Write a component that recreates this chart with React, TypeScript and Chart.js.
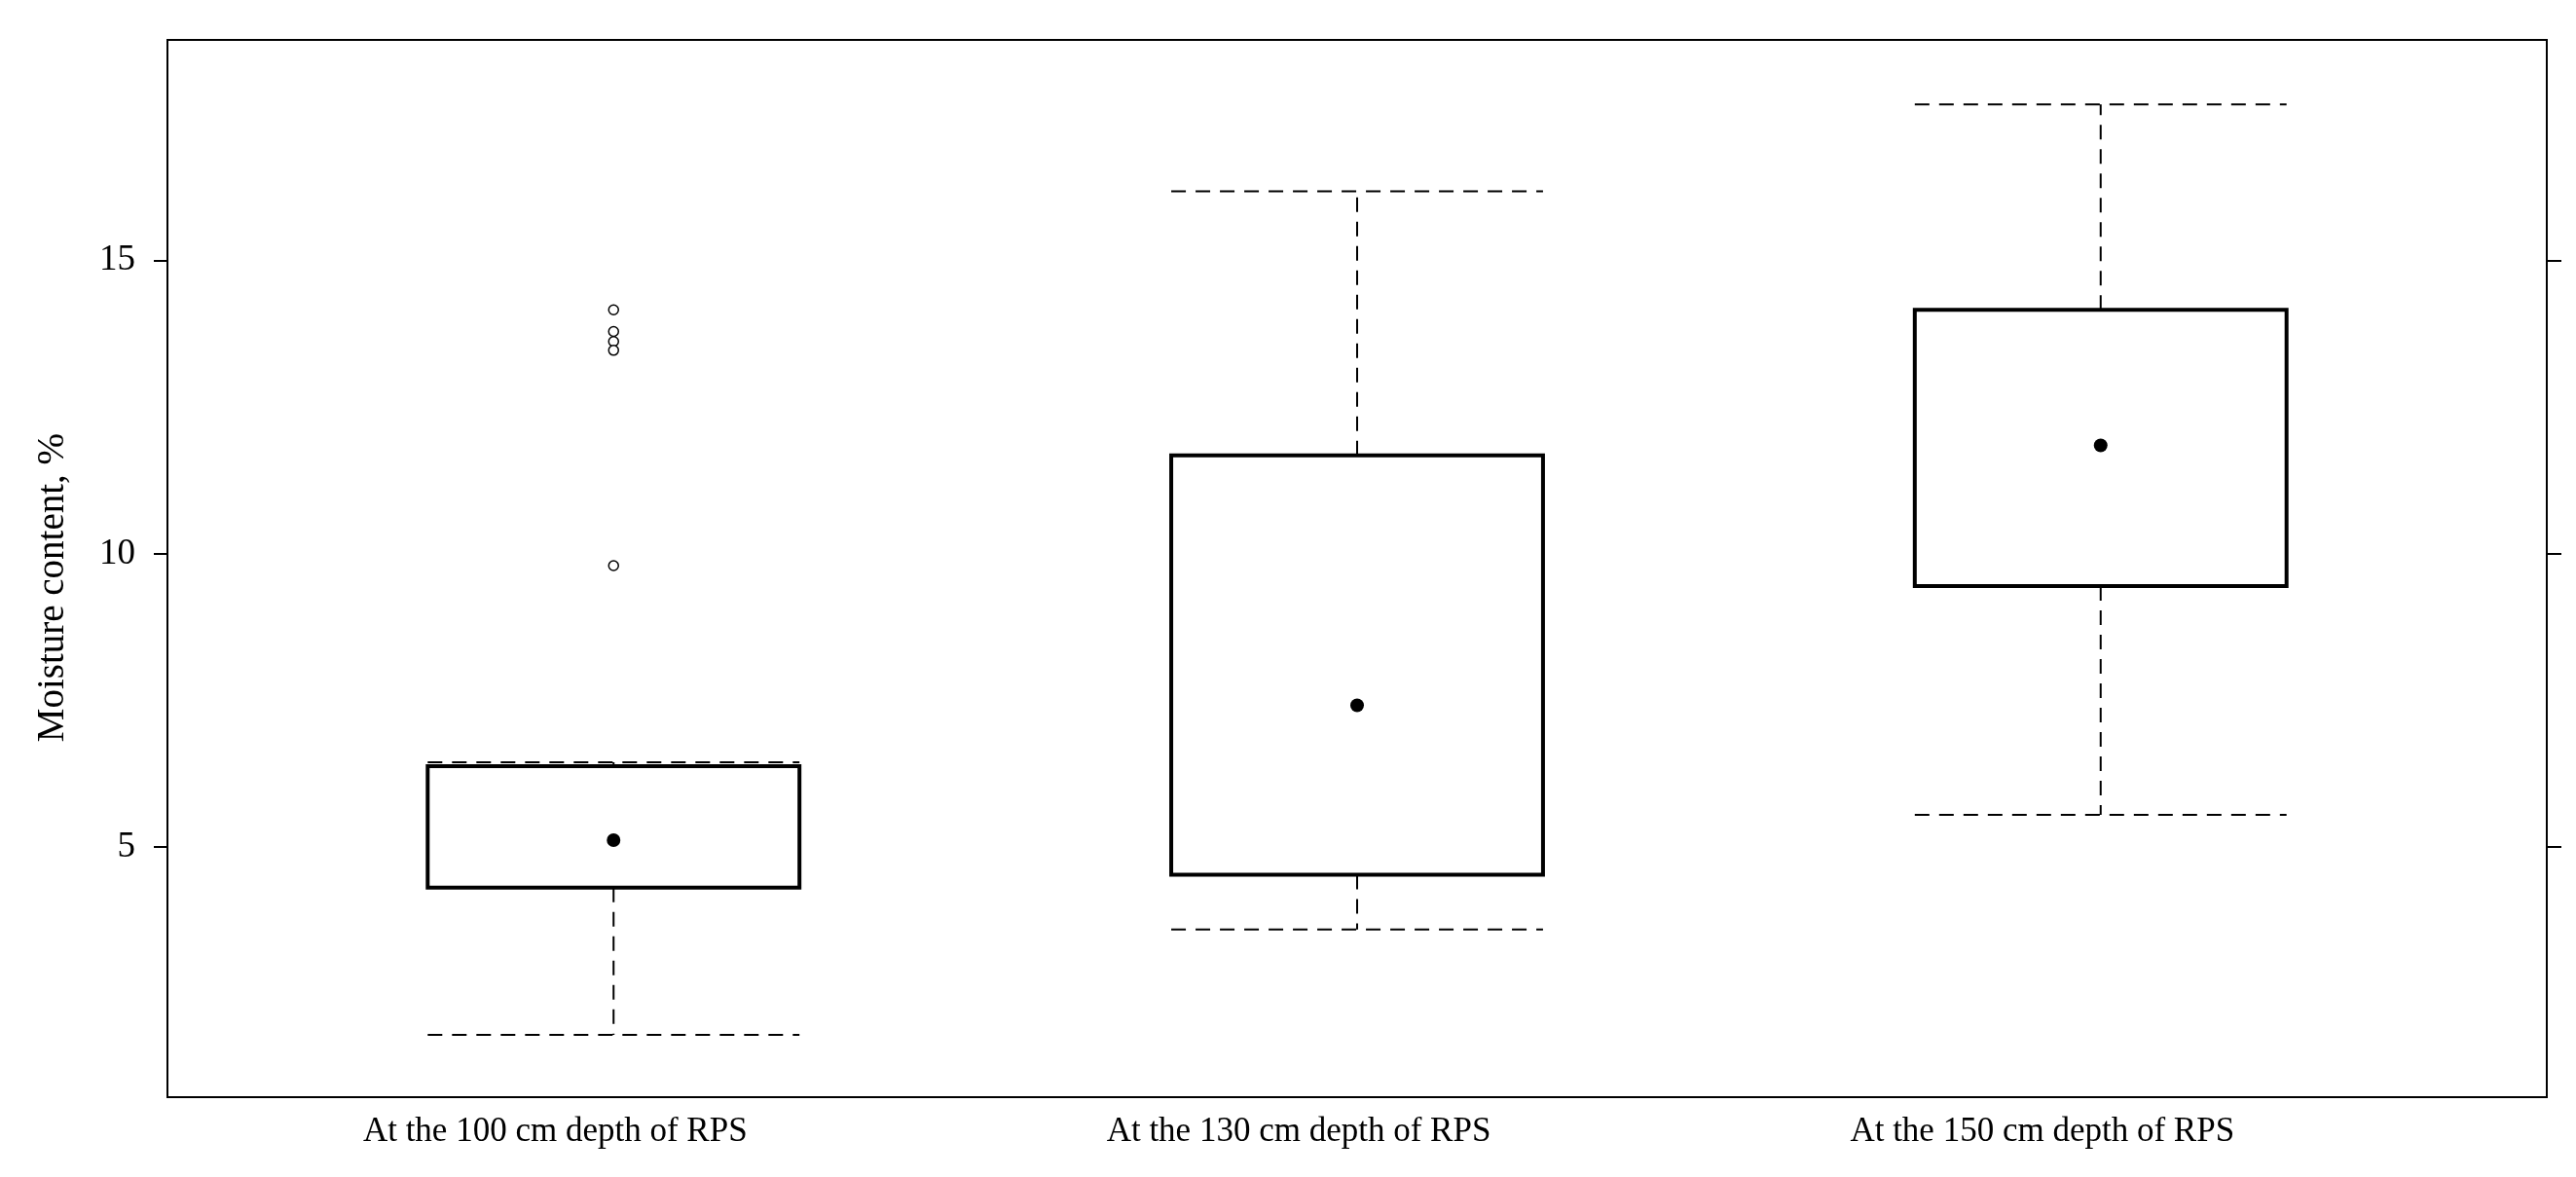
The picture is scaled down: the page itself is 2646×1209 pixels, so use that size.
import React, { useEffect, useRef } from "react";
import { Chart, registerables } from "chart.js";

Chart.register(...registerables);

const categories = [
  "At the 100 cm depth of RPS",
  "At the 130 cm depth of RPS",
  "At the 150 cm depth of RPS",
];
const positions = [1, 2, 3];
const whiskerLow = [1.8, 3.6, 5.55];
const q1 = [4.31, 4.53, 9.45];
const q3 = [6.38, 11.68, 14.16];
const whiskerHigh = [6.45, 16.18, 17.66];
const means = [5.12, 7.42, 11.85];
const outliers: number[][] = [[14.16, 13.79, 13.62, 13.47, 9.8], [], []];
const yTicks = [5, 10, 15];
const yTitle = "Moisture content, %";

const X_MIN = 0.4;
const X_MAX = 3.6;
const Y_MIN = 0.74;
const Y_MAX = 18.757;
const HALF = 0.25;

const FONT = "'Liberation Serif', 'Times New Roman', serif";

export default function App() {
  const ref = useRef<HTMLCanvasElement | null>(null);

  useEffect(() => {
    document.body.style.margin = "0";
    document.body.style.overflow = "hidden";
    const canvas = ref.current;
    if (!canvas) return;

    const datasets: any[] = [];

    // mean points
    datasets.push({
      label: "mean",
      data: positions.map((p, i) => ({ x: p, y: means[i] })),
      pointRadius: 7,
      pointBackgroundColor: "#000",
      pointBorderWidth: 0,
      showLine: false,
    });

    // outliers
    const outData: any[] = [];
    outliers.forEach((arr, i) => arr.forEach((v) => outData.push({ x: positions[i], y: v })));
    datasets.push({
      label: "outliers",
      data: outData,
      pointRadius: 5,
      pointBackgroundColor: "#fff",
      pointBorderColor: "#000",
      pointBorderWidth: 1.5,
      showLine: false,
    });

    // boxes
    positions.forEach((p, i) => {
      datasets.push({
        label: "box" + i,
        data: [
          { x: p - HALF, y: q1[i] },
          { x: p + HALF, y: q1[i] },
          { x: p + HALF, y: q3[i] },
          { x: p - HALF, y: q3[i] },
          { x: p - HALF, y: q1[i] },
        ],
        showLine: true,
        borderColor: "#000",
        borderWidth: 4,
        borderJoinStyle: "miter",
        borderCapStyle: "square",
        pointRadius: 0,
        fill: false,
        tension: 0,
      });
    });

    // whiskers (dashed)
    positions.forEach((p, i) => {
      datasets.push({
        label: "whisker" + i,
        data: [
          { x: p, y: q3[i] },
          { x: p, y: whiskerHigh[i] },
          { x: p, y: null },
          { x: p - HALF, y: whiskerHigh[i] },
          { x: p + HALF, y: whiskerHigh[i] },
          { x: p, y: null },
          { x: p, y: q1[i] },
          { x: p, y: whiskerLow[i] },
          { x: p, y: null },
          { x: p - HALF, y: whiskerLow[i] },
          { x: p + HALF, y: whiskerLow[i] },
        ],
        showLine: true,
        spanGaps: false,
        borderColor: "#000",
        borderWidth: 2,
        borderDash: [15, 10],
        pointRadius: 0,
        fill: false,
        tension: 0,
      });
    });

    const chart = new Chart(canvas, {
      type: "scatter",
      data: { datasets },
      options: {
        responsive: false,
        animation: false,
        devicePixelRatio: 1,
        layout: { padding: 0 },
        plugins: {
          legend: { display: false },
          tooltip: { enabled: false },
        },
        scales: {
          x: {
            type: "linear",
            position: "bottom",
            min: X_MIN,
            max: X_MAX,
            afterBuildTicks: (s: any) => {
              s.ticks = positions.map((v) => ({ value: v }));
            },
            afterFit: (s: any) => {
              s.height = 82;
            },
            grid: { display: false, drawTicks: false, drawOnChartArea: false },
            border: { display: true, color: "#000", width: 2 },
            ticks: {
              autoSkip: false,
              maxRotation: 0,
              minRotation: 0,
              padding: 15,
              labelOffset: -60,
              color: "#000",
              font: { family: FONT, size: 35 },
              callback: (v: any) => categories[positions.indexOf(Number(v))] ?? "",
            },
          },
          x2: {
            type: "linear",
            position: "top",
            min: X_MIN,
            max: X_MAX,
            afterFit: (s: any) => {
              s.height = 37;
            },
            grid: { display: false, drawTicks: false, drawOnChartArea: false },
            border: { display: true, color: "#000", width: 2 },
            ticks: { display: false },
          },
          y: {
            type: "linear",
            position: "left",
            min: Y_MIN,
            max: Y_MAX,
            afterBuildTicks: (s: any) => {
              s.ticks = yTicks.map((v) => ({ value: v }));
            },
            afterFit: (s: any) => {
              s.width = 172;
            },
            grid: {
              display: true,
              drawOnChartArea: false,
              drawTicks: true,
              tickLength: 14,
              color: "#000",
              lineWidth: 2,
            },
            border: { display: true, color: "#000", width: 2 },
            ticks: {
              padding: 19,
              color: "#000",
              font: { family: FONT, size: 37 },
            },
            title: {
              display: true,
              text: yTitle + "\u00a0\u00a0\u00a0\u00a0",
              color: "#000",
              font: { family: FONT, size: 39 },
              padding: { top: 31, bottom: 0 },
            },
          },
          y2: {
            type: "linear",
            position: "right",
            min: Y_MIN,
            max: Y_MAX,
            afterBuildTicks: (s: any) => {
              s.ticks = yTicks.map((v) => ({ value: v }));
            },
            afterFit: (s: any) => {
              s.width = 30;
            },
            grid: {
              display: true,
              drawOnChartArea: false,
              drawTicks: true,
              tickLength: 15,
              color: "#000",
              lineWidth: 2,
            },
            border: { display: true, color: "#000", width: 2 },
            ticks: { display: false },
          },
        },
      } as any,
    });

    return () => chart.destroy();
  }, []);

  return (
    <div style={{ width: 2646, height: 1209, background: "#fff" }}>
      <canvas ref={ref} width={2646} height={1209} style={{ display: "block" }} />
    </div>
  );
}
